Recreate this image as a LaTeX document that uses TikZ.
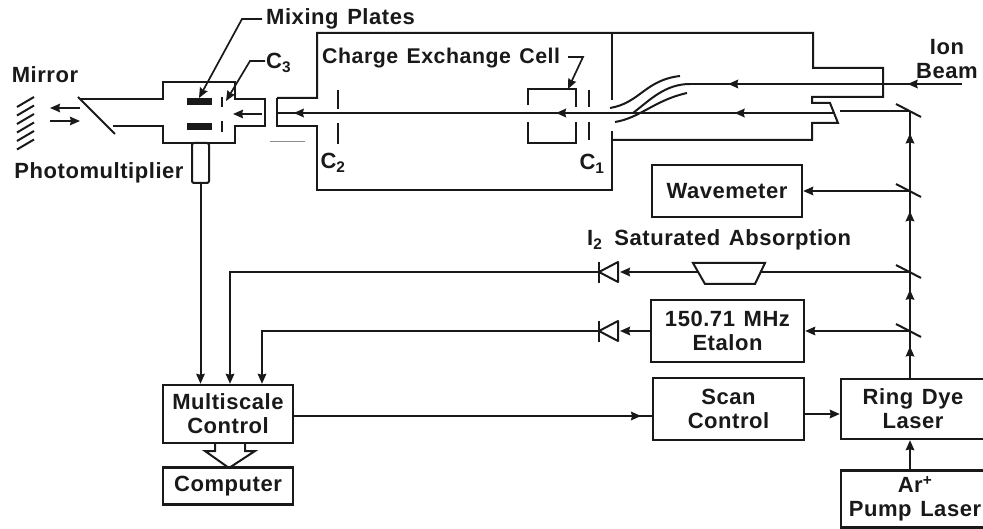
\documentclass[tikz,border=0pt]{standalone}
\usepackage{fontspec}
\setmainfont{Liberation Sans}[LetterSpace=2.5,WordSpace=1.3]
\usetikzlibrary{arrows.meta,decorations.markings,calc}
\definecolor{ink}{gray}{0.1}
\tikzset{
  x=1pt,y=-1pt,
  wire/.style={line width=2pt,draw=ink},
  thin wire/.style={line width=1.7pt,draw=ink},
  tip/.style={-{Stealth[length=10pt,width=8.5pt,inset=1pt]}},
  midtip/.style={postaction={decorate,decoration={markings,mark=at position #1 with {\arrow{Stealth[length=10pt,width=8.5pt,inset=1pt]}}}}},
  box/.style={draw=ink,line width=2.4pt,inner sep=0pt,align=center,font=\fontsize{22}{24}\selectfont\bfseries,text=ink},
  lab/.style={inner sep=0pt,align=center,font=\fontsize{22}{24}\selectfont\bfseries,text=ink},
  smalllab/.style={lab,font=\fontsize{21.3}{24}\selectfont\bfseries},
  splitter/.style={line width=2pt,draw=ink},
  plate/.style={fill=ink,draw=none},
}
\begin{document}
\begin{tikzpicture}
\useasboundingbox (0,0) rectangle (983,529);
% boxes
\node[box,minimum width=130pt,minimum height=58pt] (multi) at (228,414) {Multiscale\\Control};
\node[box,minimum width=130pt,minimum height=37pt] (comp) at (228,486) {Computer};
\node[box,minimum width=150pt,minimum height=52pt] (wave) at (727,191) {Wavemeter};
\node[box,minimum width=153pt,minimum height=62pt] (etalon) at (727.5,331) {150.71 MHz\\Etalon};
\node[box,minimum width=151pt,minimum height=62pt] (scan) at (728.5,409) {Scan\\Control};
\node[box,minimum width=144pt,minimum height=60pt] (ring) at (913,409) {Ring Dye\\Laser};
\node[box,minimum width=148pt,minimum height=57pt,xshift=2pt] (pump) at (913,499) {Ar\textsuperscript{+}\\Pump Laser};
% labels
\node[lab] (mirrorlab) at (45,75) {Mirror};
\node[lab] (pmlab) at (99,173) {Photomultiplier};
\node[lab,anchor=west] (mixlab) at (266,19) {Mixing Plates};
\node[lab,anchor=west] (c3lab) at (266,63) {C\textsubscript{3}};
\node[smalllab,anchor=west] (celllab) at (322,58) {Charge Exchange Cell};
\node[lab] (c2lab) at (333,163) {C\textsubscript{2}};
\node[lab] (c1lab) at (592,164) {C\textsubscript{1}};
\node[lab] (ionlab) at (947,59) {Ion\\Beam};
\node[lab,anchor=west] (i2lab) at (587,240) {I\textsubscript{2}\hspace{12pt}Saturated Absorption};
% mirror
\foreach \y in {97,105.5,114,122.5,131,139.5} \draw[line width=2pt,draw=ink] (17,\y+10) -- (34,\y);
\coordinate (ma) at (80,108); \coordinate (mb) at (50,108);
\coordinate (mc) at (50,121); \coordinate (md) at (80,121);
\draw[thin wire,tip] (ma) -- (mb);
\draw[thin wire,tip] (mc) -- (md);
% mixing chamber
\draw[wire] (115,134) -- (78,97);
\draw[wire] (80,99) -- (163,99) -- (163,82) -- (235,82) -- (235,99) -- (265,99) -- (265,126) -- (235,126) -- (235,143) -- (163,143) -- (163,126) -- (113,126);
\fill[plate] (187,98) rectangle (212,105);
\fill[plate] (187,123) rectangle (212,130);
\draw[wire] (222,97) -- (222,107) (222,121) -- (222,132);
% photomultiplier
\node[draw=ink,line width=2pt,minimum width=17pt,minimum height=40pt,inner sep=0pt,rounded corners=2pt] (pm) at (200.5,163) {};
% leaders
\coordinate (l1) at (262,19); \coordinate (l2) at (242,19); \coordinate (l3) at (199,98);
\draw[thin wire,tip] (l1) -- (l2) -- (l3);
\coordinate (l4) at (265,61); \coordinate (l5) at (250,61); \coordinate (l6) at (226,101);
\draw[thin wire,tip] (l4) -- (l5) -- (l6);
\coordinate (l7) at (568,57); \coordinate (l8) at (583,57); \coordinate (l9) at (568,89);
\draw[thin wire,tip] (l7) -- (l8) -- (l9);
% main cell
\draw[wire] (277,98) -- (317,98) -- (317,33) -- (813,33) -- (813,68) -- (883,68) -- (883,97) -- (812,97) -- (812,103) -- (830,103) -- (838,123) -- (812,123) -- (812,140) -- (612,140);
\draw[wire] (277,98) -- (277,126) -- (317,126) -- (317,190) -- (612,190) -- (612,131);
\draw[wire] (612,33) -- (612,100);
\draw[line width=1pt,draw=ink!50] (270,142) -- (305,142);
% inner cell and slits
\draw[wire] (528,105) -- (528,89) -- (576,89) -- (576,107);
\draw[wire] (528,122) -- (528,143) -- (576,143) -- (576,122);
\draw[wire] (589,90) -- (589,107) (589,122) -- (589,140);
\draw[wire] (338,90) -- (338,109) (338,123) -- (338,144);
% beams
\coordinate (ion0) at (962,84); \coordinate (ion1) at (690,84); \coordinate (ion2) at (633,113);
\draw[wire,midtip=0.2,midtip=0.86] (ion0) -- (ion1);
\draw[wire] (ion1) .. controls (665,84) and (650,100) .. (ion2);
\draw[wire] (610,108) .. controls (640,103) and (645,80) .. (680,76);
\draw[wire] (615,122) .. controls (640,118) and (655,100) .. (687,93);
\coordinate (b0) at (835,113); \coordinate (b1) at (277,113);
\draw[wire,midtip=0.18,midtip=0.5,midtip=0.97] (b0) -- (b1);
\coordinate (ba) at (262,114); \coordinate (bb) at (233,114);
\draw[thin wire,tip] (ba) -- (bb);
% laser column
\coordinate (s1) at (910,111); \coordinate (s2) at (910,191); \coordinate (s3) at (910,272); \coordinate (s4) at (910,331);
\draw[wire] (840,111) -- (s1);
\draw[wire,midtip=0.67] (ring.north -| s4) -- (s4);
\draw[wire,midtip=0.7] (s4) -- (s3);
\draw[wire,midtip=0.75] (s3) -- (s2);
\draw[wire,midtip=0.72] (s2) -- (s1);
\foreach \p in {s1,s2,s3,s4} \draw[splitter] ($(\p)+(-14,-7)$) -- ($(\p)+(11,6)$);
% branch beams
\draw[wire,tip] (s2) -- (wave.east);
\draw[wire,tip] (s4) -- (etalon.east);
% absorption cell
\coordinate (tl) at (693,263); \coordinate (tr) at (765,263); \coordinate (br) at (755,284); \coordinate (bl) at (705,284);
\draw[wire] (tl) -- (tr) -- (br) -- (bl) -- cycle;
\coordinate (cr) at (761,272); \coordinate (cl) at (698,272);
\draw[wire] (s3) -- (cr);
% diodes
\coordinate (d1) at (599,272); \coordinate (d2) at (599,331);
\foreach \d in {d1,d2} {
  \draw[wire,line join=round] ($(\d)+(0,-10)$) -- ($(\d)+(0,11)$);
  \draw[wire,line join=round] (\d) -- ($(\d)+(19,-10)$) -- ($(\d)+(19,10)$) -- cycle;
}
\coordinate (d1r) at ($(d1)+(21,0)$); \coordinate (d2r) at ($(d2)+(21,0)$);
\draw[wire,tip] (cl) -- (d1r);
\draw[wire,tip] (etalon.west) -- (d2r);
% to multiscale
\draw[wire,tip] (pm.south) -- (pm.south |- multi.north);
\coordinate (k1) at (230,272); \coordinate (k2) at (262,331);
\draw[wire,tip] (d1) -- (k1) -- (k1 |- multi.north);
\draw[wire,tip] (d2) -- (k2) -- (k2 |- multi.north);
% control links
\coordinate (m1) at ($(multi.east)+(0,2)$);
\draw[wire,midtip=0.97] (m1) -- (m1 -| scan.west);
\coordinate (m2) at ($(scan.east)+(0,5)$);
\draw[wire,tip] (m2) -- (m2 -| ring.west);
\coordinate (p1) at (910,470);
\draw[wire,tip] (p1) -- (p1 |- ring.south);
% hollow arrow
\coordinate (h1) at (215,443); \coordinate (h2) at (215,451); \coordinate (h3) at (205,451);
\coordinate (h4) at (229,468); \coordinate (h5) at (255,451); \coordinate (h6) at (245,451); \coordinate (h7) at (245,443);
\draw[wire] (h1) -- (h2) -- (h3) -- (h4) -- (h5) -- (h6) -- (h7);
\end{tikzpicture}
\end{document}
